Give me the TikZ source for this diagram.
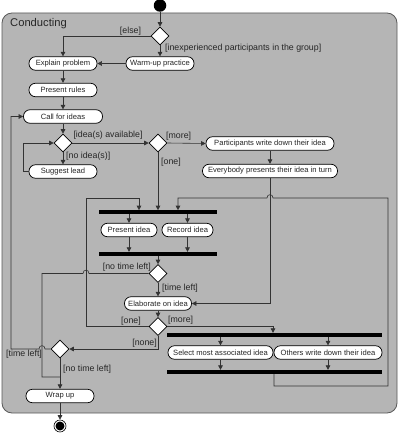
\documentclass[tikz,border=0pt]{standalone}
\usepackage{fontspec}
\setmainfont{Liberation Sans}
\usetikzlibrary{arrows.meta}
\usetikzlibrary{shapes.geometric}
\tikzset{act/.style = {draw, fill = white, line width = 0.7pt, rounded corners = 6.5pt, minimum height = 13.5pt, inner sep = 0, text = black!85, font = \fontsize{7.6}{9}\selectfont}}
\tikzset{dec/.style = {draw, fill = white, diamond, line width = 0.6pt, minimum width = 18pt, minimum height = 18pt, inner sep = 0}}
\tikzset{bar/.style = {fill = black, inner sep = 0, minimum height = 3.8pt}}
\tikzset{lbl/.style = {inner sep = 0, text = black!85, font = \fontsize{8.8}{10}\selectfont}}
\tikzset{flow/.style = {draw = black!80, line width = 0.6pt}}
\tikzset{>={Triangle[length = 4.5pt, width = 4.5pt]}}
\definecolor{panel}{rgb}{0.71, 0.71, 0.71}

\begin{document}
\begin{tikzpicture}[x = 1pt, y = -1pt]
    \useasboundingbox (0, 0) rectangle (400, 433);
    \draw [fill = panel, draw = black!65, line width = 0.8pt, rounded corners = 10pt] (2, 13) rectangle (397, 413);
    \node [lbl, anchor = west, font = \fontsize{11.2}{13}\selectfont] (title) at (10, 24) {Conducting};
    \node [fill = black, circle, inner sep = 0, minimum size = 12.5pt] (start) at (160, 5.5) {};
    \node [dec] (d1) at (160, 36) {};
    \node [act, minimum width = 68pt] (warm) at (160, 63.5) {Warm-up practice};
    \node [act, minimum width = 68pt] (explain) at (63, 63.5) {Explain problem};
    \node [act, minimum width = 68pt] (rules) at (63, 90) {Present rules};
    \node [act, minimum width = 79pt] (call) at (63, 116.5) {Call for ideas};
    \node [dec] (d2) at (63, 143) {};
    \node [act, minimum width = 68pt] (lead) at (63, 171.5) {Suggest lead};
    \node [dec] (d3) at (158, 143) {};
    \node [act, minimum width = 128pt] (write) at (270, 143.5) {Participants write down their idea};
    \node [act, minimum width = 135pt] (turn) at (270, 171) {Everybody presents their idea in turn};
    \node [bar, minimum width = 118pt] (fork1) at (158, 212.3) {};
    \node [act, minimum width = 56pt] (present) at (129, 230) {Present idea};
    \node [act, minimum width = 51pt] (record) at (187.5, 230) {Record idea};
    \node [bar, minimum width = 118pt] (join1) at (158, 254) {};
    \node [dec] (d5) at (158, 273.5) {};
    \node [act, minimum width = 67pt] (elab) at (158, 303.5) {Elaborate on idea};
    \node [dec] (d4) at (158, 326.5) {};
    \node [bar, minimum width = 215pt] (fork2) at (274.5, 335) {};
    \node [act, minimum width = 105pt] (select) at (220.5, 352.5) {Select most associated idea};
    \node [act, minimum width = 108pt] (others) at (328, 352.5) {Others write down their idea};
    \node [bar, minimum width = 215pt] (join2) at (274.5, 372) {};
    \node [dec] (d6) at (60, 349) {};
    \node [act, minimum width = 68pt] (wrap) at (60, 396) {Wrap up};
    \node [draw, circle, line width = 0.6pt, inner sep = 0, minimum size = 12pt] (stop) at (60, 426) {};
    \fill (stop.center) circle [radius = 4.5pt];
    \draw [flow, ->] (start) -- (d1);
    \draw [flow, ->] (d1.west) -| (explain.north);
    \node [lbl] (else) at (130.5, 31) {[else]};
    \draw [flow, ->] (d1.south) -- (warm.north);
    \node [lbl, anchor = west] (inexp) at (165, 48) {[inexperienced participants in the group]};
    \draw [flow, ->] (warm.west) -- (explain.east);
    \draw [flow, ->] (explain) -- (rules);
    \draw [flow, ->] (rules) -- (call);
    \draw [flow, ->] (call) -- (d2);
    \draw [flow, ->] (d2.south) -- (lead.north);
    \node [lbl, anchor = west] (noidea) at (66, 156) {[no idea(s)]};
    \draw [flow, ->] (lead.west) -- (23, 171.5) |- (d2.west);
    \draw [flow, ->] (d2.east) -- (d3.west);
    \node [lbl] (avail) at (108, 135) {[idea(s) available]};
    \draw [flow, ->] (d3.east) -- (write.west);
    \node [lbl, anchor = west] (more1) at (166, 136) {[more]};
    \draw [flow, ->] (write) -- (turn);
    \draw [flow, ->] (d3.south) -- (d3.south |- fork1.north);
    \node [lbl, anchor = west] (one1) at (161, 162) {[one]};
    \draw [flow, ->] (present.north |- fork1.south) -- (present.north);
    \draw [flow, ->] (record.north |- fork1.south) -- (record.north);
    \draw [flow, ->] (present.south) -- (present.south |- join1.north);
    \draw [flow, ->] (record.south) -- (record.south |- join1.north);
    \draw [flow, ->] (join1.south -| d5.north) -- (d5.north);
    \draw [flow, ->] (d5.south) -- (elab.north);
    \node [lbl, anchor = west] (tleft1) at (162, 288) {[time left]};
    \draw [flow, ->] (turn.south) |- (elab.east);
    \draw [flow, ->] (elab) -- (d4);
    \draw [flow, ->] (d4.east) -| (273, 0 |- fork2.north);
    \node [lbl, anchor = west] (more2) at (168, 320) {[more]};
    \draw [flow, ->] (select.north |- fork2.south) -- (select.north);
    \draw [flow, ->] (others.north |- fork2.south) -- (others.north);
    \draw [flow, ->] (select.south) -- (select.south |- join2.north);
    \draw [flow, ->] (others.south) -- (others.south |- join2.north);
    \draw [flow, ->] (274, 0 |- join2.south) -- (274, 386) -- (388, 386) -- (388, 198) -- (273, 198) .. controls (273, 193.5) and (267, 193.5) .. (267, 198) -- (178, 198) -- (178, 0 |- fork1.north);
    \draw [flow, ->] (d4.west) -- (86, 326.5) -- (86, 198) -- (139, 198) -- (139, 0 |- fork1.north);
    \node [lbl, anchor = east] (one2) at (141, 321) {[one]};
    \draw [flow, ->] (d4.south) |- (d6.east);
    \node [lbl, anchor = east] (none) at (157, 343) {[none]};
    \draw [flow] (d5.west) -- (89, 273.5) .. controls (89, 269) and (83, 269) .. (83, 273.5) -- (42, 273.5) -- (42, 377) -- (60, 377);
    \node [lbl, anchor = east] (notime1) at (151, 267) {[no time left]};
    \draw [flow, ->] (d6.west) -- (45, 349) .. controls (45, 344.5) and (39, 344.5) .. (39, 349) -- (11, 349) |- (call.west);
    \node [lbl, anchor = west] (tleft2) at (6, 354) {[time left]};
    \draw [flow, ->] (d6.south) -- (wrap.north);
    \node [lbl, anchor = west] (notime2) at (63, 369) {[no time left]};
    \draw [flow, ->] (wrap.south) -- (stop.north);
\end{tikzpicture}
\end{document}
